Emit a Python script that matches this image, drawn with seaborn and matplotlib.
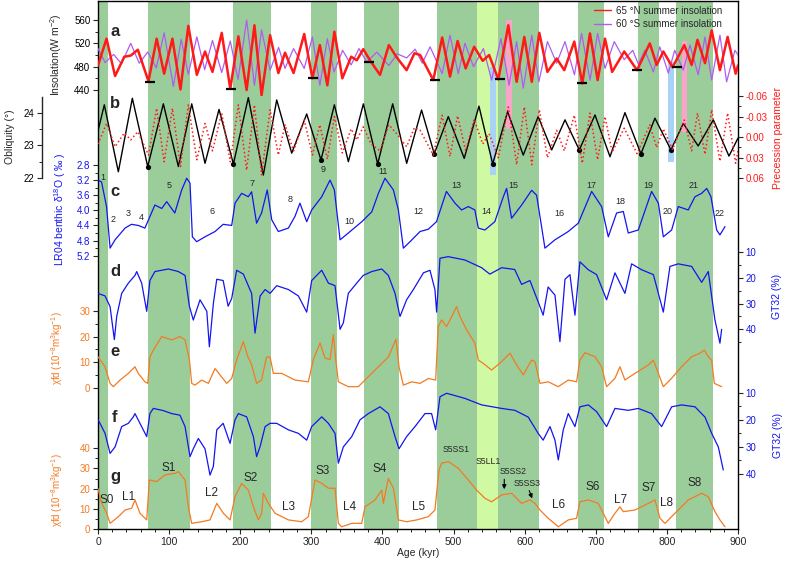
import matplotlib
matplotlib.use("Agg")
import matplotlib.pyplot as plt
import seaborn as sns
from matplotlib.ticker import FixedLocator, FormatStrFormatter
from matplotlib.lines import Line2D

# ---------------- data (age in kyr) ----------------
mis_bands = [(0, 13.6), (70.8, 129.4), (190.4, 242.9), (299.6, 336.6), (373.6, 423.3),
             (477, 532.4), (562, 620), (675.4, 711.5), (759.8, 788.9), (812.8, 864.8)]
mis14_band = (532.4, 562)

# 65N / 60S summer insolation (W m-2), turning points
ins65 = [(0, 482), (12, 528), (24, 464), (37, 497), (46, 499), (56, 509), (71, 455), (82.5, 528),
         (93, 468), (104.6, 528), (116, 441), (127, 550), (139, 466), (150.5, 506), (161, 471),
         (174, 538), (186, 442), (197.4, 532), (209, 440), (220, 551), (230, 431), (242, 534),
         (253.6, 469), (263, 504), (275, 469), (290, 536), (301.5, 460), (312, 517), (322.5, 448),
         (332.4, 540), (343.6, 460), (356, 497), (364, 491), (373, 510), (384, 488), (396.6, 466),
         (409, 517), (420, 496), (434, 474), (445, 503), (453, 500), (471.5, 457), (484, 530),
         (495, 463), (505.7, 524), (517, 477), (529, 514), (541, 490), (550, 500), (563, 458),
         (577, 551), (588.7, 454), (599.5, 531), (610, 454), (620.6, 538), (632, 471), (645, 494),
         (655.7, 474), (669.8, 523), (681, 451), (691.8, 537), (702.6, 457), (713, 528), (723, 471),
         (740, 506), (758, 474), (776, 520), (785.6, 483), (795, 506), (808, 479), (824.5, 517),
         (834.8, 483), (843, 526), (853.6, 486), (863, 542), (874.6, 474), (885.4, 531),
         (896.7, 468), (900, 482)]
ins60s = [(0, 511), (10, 487), (22, 501), (33, 485), (46, 520), (58, 486), (70, 505), (82, 478),
          (93, 538), (106, 446), (117, 527), (127, 467), (139, 531), (150, 475), (161, 525),
          (174, 470), (186, 524), (197, 458), (209, 560), (220, 448), (230, 543), (242, 474),
          (254, 513), (263, 477), (275, 511), (290, 477), (301.5, 531), (312, 448), (322.5, 528),
          (332, 471), (344, 508), (356, 483), (367, 511), (378, 488), (392, 505), (409, 482),
          (421, 502), (434, 495), (446, 510), (456, 486), (467, 514), (484, 468), (495, 534),
          (506.6, 468), (516, 520), (528, 480), (542, 511), (553.5, 457), (566.6, 528), (578, 448),
          (588.7, 523), (598, 443), (610, 534), (620, 454), (632, 523), (645, 486), (656.7, 523),
          (670, 466), (680, 537), (692, 457), (702.6, 537), (713, 477), (726, 523), (740, 492),
          (752, 508), (760, 484), (769, 508), (781, 471), (790, 514), (802, 469), (811, 508),
          (823, 474), (832.5, 517), (844, 466), (853.6, 531), (863, 457), (874.6, 534), (884, 454),
          (895.7, 508), (900, 500)]
ins_min_marks = [(73, 454), (186.6, 442), (301.9, 461), (381.5, 488.5), (474, 456.6),
                 (566, 458.9), (681, 451.4), (758.4, 473.7), (814.7, 480)]

# obliquity (deg) and precession parameter, turning points
obliquity = [(0, 23.44), (8.9, 24.24), (28.6, 22.19), (48.3, 24.44), (69.9, 22.35), (91.9, 24.27),
             (113, 22.35), (131.8, 24.27), (150.5, 22.45), (170.2, 24.1), (190.4, 22.43),
             (211.4, 24.46), (232.5, 22.09), (251.3, 24.39), (272.4, 22.76), (293.5, 23.96),
             (313.6, 22.55), (332.4, 24.24), (352.1, 22.5), (373.2, 24.27), (393.3, 22.43),
             (414.4, 24.27), (434.1, 22.45), (455, 24.08), (472.9, 22.74), (492.6, 23.88),
             (515, 22.6), (535.7, 24.2), (555, 22.43), (576, 24.03), (598, 22.7), (619, 23.88),
             (638, 22.86), (656.7, 23.78), (676.8, 22.86), (698.9, 23.93), (720, 22.65), (741, 24.0),
             (763.5, 22.74), (783.2, 23.83), (805.7, 22.86), (823, 23.67), (844, 22.98),
             (865.3, 23.78), (887.3, 22.67), (900, 23.22)]
obl_min_dots = [(69.9, 22.35), (190.4, 22.43), (313.6, 22.55), (393.3, 22.43), (472.9, 22.74),
                (555, 22.43), (676.8, 22.86), (763.5, 22.74), (805.7, 22.86)]
precession = [(0, 0.01), (12, -0.02), (24, 0.014), (37, -0.006), (46, 0.004), (56, -0.008),
              (71, 0.026), (82.5, -0.042), (93, 0.036), (104.6, -0.042), (116, 0.043), (127, -0.047),
              (139, 0.033), (150.5, -0.02), (161, 0.02), (174, -0.035), (186, 0.036), (197.4, -0.047),
              (209, 0.048), (220, -0.047), (230, 0.055), (242, -0.04), (253.6, 0.026), (263, -0.018),
              (275, 0.02), (290, -0.025), (301.5, 0.026), (312, -0.018), (322.5, 0.032),
              (332.4, -0.03), (343.6, 0.023), (356, -0.012), (364, 0.004), (373, -0.015),
              (384, 0.01), (396.6, 0.02), (409, -0.018), (420, -0.005), (434, 0.014), (445, -0.014),
              (453, -0.01), (471.5, 0.026), (484, -0.032), (495, 0.028), (505.7, -0.031), (517, 0.02),
              (529, -0.026), (541, 0.01), (550, -0.005), (563, 0.03), (577, -0.044), (588.7, 0.04),
              (599.5, -0.044), (610, 0.04), (620.6, -0.04), (632, 0.03), (645, -0.01), (655.7, 0.02),
              (669.8, -0.032), (681, 0.038), (691.8, -0.035), (702.6, 0.033), (713, -0.03),
              (723, 0.022), (740, -0.013), (758, 0.024), (776, -0.018), (785.6, 0.015), (795, -0.012),
              (808, 0.018), (824.5, -0.025), (834.8, 0.02), (843, -0.035), (853.6, 0.025),
              (863, -0.04), (874.6, 0.035), (885.4, -0.035), (896.7, 0.038), (900, 0.02)]

# LR04 benthic d18O (permil)
lr04 = [(0, 3.2), (5, 3.25), (12, 3.9), (17, 5.0), (24, 4.78), (38, 4.47), (47, 4.37), (56.7, 4.4),
        (66, 4.47), (70.8, 4.26), (80, 3.86), (89.6, 3.95), (96.6, 3.77), (108, 4.07), (117.7, 3.46),
        (124.7, 3.15), (129.4, 3.28), (132.7, 4.7), (138.8, 4.83), (150.5, 4.7), (164.6, 4.56),
        (176, 4.37), (188, 4.4), (192.7, 3.81), (202, 3.55), (211.4, 3.64), (216, 3.51),
        (223, 4.34), (230, 4.07), (238, 3.46), (244.3, 4.25), (253.6, 4.56), (267.7, 4.47),
        (277, 4.16), (284, 3.81), (293.5, 4.3), (300.5, 3.99), (314.6, 3.64), (326.3, 3.2),
        (332.4, 3.46), (340.4, 4.78), (352, 4.6), (371, 4.3), (385, 4.04), (394.3, 3.55),
        (403.6, 3.15), (415.4, 3.46), (422.4, 3.99), (429.4, 5.0), (438.8, 4.83), (452.9, 4.56),
        (464.5, 4.5), (476, 4.3), (490, 3.5), (502, 3.81), (511.3, 3.99), (520.7, 3.9), (530, 3.99),
        (534.8, 4.47), (544.1, 4.52), (558, 4.3), (570, 3.64), (574.6, 3.42), (581.6, 4.21),
        (595.7, 3.86), (609.8, 3.47), (616.8, 3.6), (628.5, 5.0), (642.6, 4.78), (661.3, 4.56),
        (675.4, 4.34), (694.2, 3.5), (708.2, 3.9), (717.6, 4.7), (729.3, 4.07), (738.7, 4.03),
        (745.7, 4.6), (759.8, 4.52), (778.5, 3.5), (788, 3.81), (795, 4.7), (806.7, 4.52),
        (816, 3.9), (830, 3.99), (839.5, 3.64), (848.9, 3.55), (856, 3.42), (862, 3.64),
        (870, 4.52), (874.6, 4.65), (881.7, 4.43)]

# GT32 (%) records d and f
gt32_d = [(0, 26), (9.9, 27), (17, 31.2), (23, 44), (26.3, 35), (33.3, 26), (42.7, 22), (52, 19),
          (54.4, 17.5), (61.4, 22), (68.5, 33), (73, 21), (80, 17.5), (99, 16.5), (113, 17.5),
          (122.4, 19), (128.5, 31), (134, 36.4), (143.5, 28.5), (153, 33), (156.6, 46.8),
          (162.2, 30), (167, 20.5), (176, 21), (183, 31), (188, 28), (195, 17), (204.4, 18.5),
          (216, 26), (220.8, 41.5), (228, 27), (235, 24.5), (242, 26), (251.3, 23), (267.7, 24.5),
          (281.8, 27), (293.5, 33.3), (300.5, 21), (314.6, 17), (324, 22), (333.3, 23), (340.4, 40),
          (345, 37.5), (352, 26), (363.8, 22), (373, 19), (385, 17.5), (399, 16.5), (408.3, 19),
          (417.7, 26), (424.7, 35), (434, 28.5), (443.5, 24.5), (457.6, 18), (466.8, 17),
          (473.8, 24.5), (476.2, 33.3), (480.9, 12.3), (492.6, 11.7), (516, 13), (539.5, 16),
          (551, 18.5), (567.6, 16), (586, 16.7), (595.7, 22.5), (607.4, 21), (619, 29.3),
          (626, 34.5), (633, 23.5), (642.6, 26.7), (649.6, 44.8), (656.7, 20.5), (663.7, 18.7),
          (670.7, 34.5), (677.7, 13.7), (689.5, 16.8), (701.2, 18.7), (715.2, 28.5), (727, 18),
          (741, 26), (750.4, 14.5), (764.5, 16.8), (781, 18.7), (795, 33.3), (804.3, 15.5),
          (816, 14.5), (834.8, 15.5), (848.9, 21.7), (858.2, 17.5), (867.6, 36.4), (874.6, 45.4),
          (877, 40)]
gt32_f = [(0, 20), (2.8, 21.3), (9.9, 25), (17, 32.4), (24, 30), (33.3, 22.5), (42.7, 21.3),
          (49.7, 18.9), (52, 17.7), (59, 21.3), (68.5, 26.2), (73, 17.7), (77.8, 15.8), (91.9, 16.6),
          (103.6, 17.7), (115.3, 18.3), (122.4, 22.5), (129.4, 33.6), (134, 30.7), (141.1, 26.9),
          (150.5, 30.7), (157.5, 40.4), (162.2, 37.2), (167, 23.7), (176, 21.3), (185.7, 28.7),
          (192.7, 20), (197.4, 17.7), (209, 18.9), (218.5, 26.2), (223, 33.6), (228, 29.8),
          (235, 22.5), (242, 21.3), (251.3, 21.3), (267.7, 23.7), (281.8, 25), (293.5, 27.5),
          (300.5, 22.5), (314.6, 18.9), (324, 21.3), (333.3, 25), (338, 36), (345, 30),
          (356.8, 26.2), (368.5, 20), (380.2, 17.7), (396.6, 15.2), (408.3, 17.7), (417.7, 26.2),
          (423.3, 30.7), (434, 26.2), (445.8, 22.5), (459.8, 17.7), (469.1, 17.7), (474.8, 23.7),
          (480.9, 11.5), (490.2, 10.2), (516, 12.1), (539.5, 14.5), (567.6, 15.8), (586.3, 16.5),
          (605, 19), (619, 25), (626, 27.5), (635.6, 22.5), (642.6, 27.5), (647.3, 34.8),
          (654.3, 23.7), (661.3, 17.7), (670.7, 22.5), (677.7, 15.2), (689.5, 14.5), (701.2, 17),
          (715.2, 22.5), (727, 15.8), (745.7, 16.5), (759.8, 15.8), (778.5, 17.7), (792.6, 22.5),
          (806.7, 15.2), (820.7, 14.5), (839.5, 15.2), (853.6, 19), (863, 25), (872.3, 30),
          (879.3, 38.5)]

# chi_fd (10-8 m3 kg-1) records e and g
chifd_e = [(0, 12.1), (9.9, 8.2), (17, 1.7), (21.6, 0.4), (31, 3), (42.7, 5.6), (52, 8.2),
           (56.7, 5.6), (66, 2.3), (70, 1.7), (73, 12), (77.8, 14.7), (89.6, 20), (103.6, 18.7),
           (115.3, 20), (122.4, 18.7), (128.5, 11), (131.8, 1.7), (136.4, 1), (145.8, 3),
           (155.2, 1.7), (164.6, 7.5), (171.6, 5), (181, 1.7), (188, 3.6), (195, 11), (204.4, 18),
           (210.5, 12.3), (216, 9), (223, 1.7), (230, 3), (237, 12), (242, 12), (246.6, 5.6),
           (258.3, 5.6), (277, 3), (295.8, 2.3), (302.8, 11), (312.2, 17.5), (319.3, 11.6),
           (326.3, 11), (331, 20.8), (334.3, 11), (338, 2.3), (352, 0.4), (366, 0.4), (375.5, 3),
           (394.3, 8.2), (408.3, 12), (419.1, 19), (423.3, 8.2), (429.4, 1), (441.1, 2.3),
           (452.9, 1.7), (464.5, 3.6), (474.8, 3), (478.5, 23.9), (483.2, 26.5), (490.2, 23.9),
           (497.3, 27.8), (504.3, 31.7), (509, 27.8), (518.4, 22.6), (530, 17.4), (534.8, 10.8),
           (541.8, 9.5), (553.5, 6.9), (567.6, 10.2), (579.3, 13.5), (588.7, 8.9), (598, 5),
           (609.8, 10.8), (614.5, 10.2), (621.5, 1.7), (633.2, 2.3), (647.3, 0.4), (661.3, 3),
           (673, 2.3), (677.7, 10.8), (684.8, 13.7), (698.9, 12.1), (708.2, 8.2), (715.2, 0.4),
           (727, 3.7), (734, 8.2), (741, 3), (755.1, 5.6), (773.9, 8.9), (781, 10.8), (788, 5.6),
           (795, 0.4), (806.7, 3.7), (820.7, 8.2), (834.8, 12.1), (846.5, 13.5), (852.6, 14.7),
           (858.2, 12.1), (863, 10.8), (866.7, 1.7), (877, 0.4)]
chifd_g = [(0, 20), (5.2, 12.7), (12.2, 7.8), (17, 2.8), (28.6, 6.1), (38, 9.4), (47.4, 10.3),
           (52, 14.4), (59, 7.8), (68.5, 4.5), (72.2, 24.3), (82.5, 23.5), (94.2, 26.8),
           (108.3, 27.6), (113, 28.4), (122.4, 24.3), (127, 11), (131.8, 2.8), (145.8, 3.6),
           (157.5, 4.5), (167, 12.7), (176.3, 7.8), (185.7, 4.5), (192.7, 16), (202, 22.6),
           (211.4, 19.3), (218.5, 11), (225.5, 4.5), (230.2, 7.8), (232.5, 17.7), (239.6, 12.7),
           (249, 7.8), (267.7, 4.5), (286.5, 3.6), (295.8, 6.1), (305.2, 24.3), (314.6, 22.6),
           (324, 20.2), (333.3, 20.2), (338, 2.8), (342.7, 1.1), (356.8, 2.8), (370.8, 2.8),
           (375.5, 11), (389.6, 14.4), (399, 19.3), (401.3, 12.7), (408.3, 25.1), (415.4, 20.2),
           (422.4, 4.5), (434.1, 3.6), (448.2, 4.5), (464.5, 6.1), (473.8, 9.4), (479.5, 29.2),
           (483.2, 32.6), (492.6, 33.4), (506.6, 30.1), (520.7, 24.3), (532.4, 19.3), (544.1, 15.2),
           (553.5, 13.5), (567.6, 16.9), (581.6, 17.7), (595.7, 12.7), (607.4, 14.4), (614.5, 12.7),
           (621.5, 9.4), (633.2, 5.3), (647.3, 1.1), (661.3, 4.5), (673, 5.3), (677.7, 13.5),
           (689.5, 14.4), (703.5, 12.7), (712.9, 6.1), (717.6, 2.8), (727, 7.8), (734, 11),
           (738.7, 8.6), (755.1, 9.4), (773.9, 12.7), (783.2, 14.4), (790.3, 5.3), (797.3, 2.8),
           (811.4, 7.8), (830.1, 14.4), (848.9, 17.7), (858.2, 16), (867.6, 8.6), (874.6, 4.5),
           (881.7, 1.1)]

# highlighted intervals in panels a-b: (start kyr, end kyr, top row, bottom row)
blue_bars = [(551, 560, 67, 175), (802, 810, 62, 162)]
pink_bars = [(574, 582, 20, 129), (821, 828, 41, 132)]

# MIS numbers (panel c) and loess/palaeosol units (panel g): (label, age, row)
mis_labels = [("1", 6.6, 177), ("2", 21.5, 219), ("3", 42, 213), ("4", 60.5, 218), ("5", 100, 185),
              ("6", 160.7, 212), ("7", 216, 183), ("8", 270, 199), ("9", 317, 170), ("10", 354, 221),
              ("11", 401, 171), ("12", 450, 211), ("13", 504, 185), ("14", 546.5, 212),
              ("15", 584, 186), ("16", 649, 213), ("17", 694, 186), ("18", 734, 202),
              ("19", 774.6, 186), ("20", 801, 212), ("21", 837, 186), ("22", 874.6, 213)]
unit_labels = [("S0", 12.2, 500), ("L1", 42.6, 497), ("S1", 98.8, 468), ("L2", 160, 493),
               ("S2", 214.7, 478), ("L3", 267.6, 507), ("S3", 316, 471), ("L4", 354.3, 507),
               ("S4", 396.5, 469), ("L5", 450.4, 507), ("L6", 648.2, 505), ("S6", 695, 487),
               ("L7", 735, 500), ("S7", 773.8, 488), ("L8", 799.6, 503), ("S8", 839.4, 483)]
sub_labels = [("S5SS1", 503.4, 450), ("S5LL1", 548.8, 462), ("S5SS2", 584, 472), ("S5SS3", 602.8, 483)]

# ---------------- style ----------------
sns.set_style("ticks")
plt.rcParams['font.family'] = ['Liberation Sans', 'DejaVu Sans']
plt.rcParams['mathtext.fontset'] = 'custom'
plt.rcParams['mathtext.rm'] = 'Liberation Sans'
plt.rcParams['axes.unicode_minus'] = False

GREEN = "#9bcd9b"
LIGHT_GREEN = "#cffaa3"
BLUE = "#1414f0"
ORANGE = "#f47a20"
RED = "#ff1a1a"
PURPLE = "#b05cf0"

W, H = 787, 564
X0, X1 = 98, 738

fig = plt.figure(figsize=(W / 100, H / 100), dpi=100)


def add_axes_px(top, bottom):
    return fig.add_axes([X0 / W, 1 - bottom / H, (X1 - X0) / W, (bottom - top) / H])


def panel(top, bottom, ylim, side, majors, minors, fmt=None, color="black"):
    ax = add_axes_px(top, bottom)
    ax.set_xlim(0, 900)
    ax.set_ylim(*ylim)
    ax.patch.set_visible(False)
    for s in ax.spines.values():
        s.set_visible(False)
    ax.set_xticks([])
    ax.yaxis.set_major_locator(FixedLocator(majors))
    ax.yaxis.set_minor_locator(FixedLocator(minors))
    if fmt:
        ax.yaxis.set_major_formatter(FormatStrFormatter(fmt))
    ax.tick_params(axis='y', which='major', direction='out', length=3.5, width=0.8,
                   labelsize=7, pad=2, labelcolor=color)
    ax.tick_params(axis='y', which='minor', direction='out', length=2, width=0.7)
    if side == 'right':
        ax.yaxis.tick_right()
        ax.tick_params(axis='y', which='both', left=False, right=True,
                       labelleft=False, labelright=True)
    ax.set_ylabel("")
    ax.set_xlabel("")
    return ax


def line(ax, data, **kw):
    age, val = zip(*data)
    sns.lineplot(x=list(age), y=list(val), ax=ax, estimator=None, **kw)
    ax.set_xlabel("")
    ax.set_ylabel("")


def ftext(x, y, s, **kw):
    fig.text(x / W, 1 - y / H, s, ha='center', va='center', **kw)


# ---------------- frame, bands ----------------
ax0 = add_axes_px(1, 529)
ax0.set_xlim(0, 900)
ax0.set_ylim(529, 1)
for a, b in mis_bands:
    ax0.axvspan(a, b, color=GREEN, lw=0)
ax0.axvspan(*mis14_band, color=LIGHT_GREEN, lw=0)
for bars, c in [(blue_bars, "#a8d2f6"), (pink_bars, "#f7a6c9")]:
    for a, b, t, btm in bars:
        ax0.bar((a + b) / 2, btm - t, bottom=t, width=b - a, color=c, lw=0)
ax0.set_yticks([])
ax0.xaxis.set_major_locator(FixedLocator(range(0, 901, 100)))
ax0.xaxis.set_minor_locator(FixedLocator(range(0, 901, 20)))
ax0.tick_params(axis='x', which='major', direction='out', length=3.5, width=0.8, labelsize=7.5, pad=2)
ax0.tick_params(axis='x', which='minor', direction='out', length=2, width=0.7)
for s in ax0.spines.values():
    s.set_linewidth(1.0)
    s.set_color("black")

for lab, x, y in mis_labels:
    ax0.text(x, y, lab, ha='center', va='center', fontsize=6.5)
for lab, x, y in unit_labels:
    ax0.text(x, y, lab, ha='center', va='center', fontsize=8.5)
for lab, x, y in sub_labels:
    ax0.text(x, y, lab, ha='center', va='center', fontsize=6.3)
ax0.annotate("", xy=(571.3, 492), xytext=(571.3, 476.5),
             arrowprops=dict(arrowstyle='-|>', lw=0.8, color='black', mutation_scale=6))
ax0.annotate("", xy=(612, 501), xytext=(605, 488),
             arrowprops=dict(arrowstyle='-|>', lw=0.8, color='black', mutation_scale=6))

# ---------------- panel a: insolation ----------------
ax_a = panel(0, 96, (429.7, 594.3), 'left', [440, 480, 520, 560], [460, 500, 540])
line(ax_a, ins60s, color=PURPLE, linewidth=0.9)
line(ax_a, ins65, color=RED, linewidth=1.8)
mx, my = zip(*ins_min_marks)
ax_a.plot(mx, my, ls='none', marker='_', ms=7, mew=1.6, color='black')
ax_a.legend([Line2D([], [], color=RED, lw=1), Line2D([], [], color=PURPLE, lw=1)],
            ["65 °N summer insolation", "60 °S summer insolation"],
            loc='upper right', bbox_to_anchor=(726 / W, 1 - 2 / H), bbox_transform=fig.transFigure,
            frameon=False, fontsize=7, handlelength=1.8, handletextpad=0.5,
            labelspacing=0.35, borderaxespad=0)

# ---------------- panel b: obliquity + precession ----------------
ax_b = panel(96, 178.3, (21.99, 24.51), 'left', [22, 23, 24], [22.5, 23.5])
ax_b.spines['left'].set_visible(True)
ax_b.spines['left'].set_position(('outward', 40))
ax_b.spines['left'].set_bounds(21.99, 24.49)
ax_b.spines['left'].set_linewidth(1.0)
ax_p = panel(96, 178.3, (0.06, -0.06), 'right', [-0.06, -0.03, 0, 0.03, 0.06],
             [-0.045, -0.015, 0.015, 0.045], fmt='%.2f', color=RED)
line(ax_p, precession, color=RED, linewidth=1.1, linestyle=':')
line(ax_b, obliquity, color='black', linewidth=1.0)
dx, dy = zip(*obl_min_dots)
sns.scatterplot(x=list(dx), y=list(dy), ax=ax_b, color='black', s=14, zorder=5, linewidth=0)
ax_b.set_xlabel("")
ax_b.set_ylabel("")

# ---------------- panel c: LR04 ----------------
ax_c = panel(160, 262, (5.367, 2.668), 'left', [2.8, 3.2, 3.6, 4.0, 4.4, 4.8, 5.2],
             [3.0, 3.4, 3.8, 4.2, 4.6, 5.0], fmt='%.1f', color=BLUE)
line(ax_c, lr04, color=BLUE, linewidth=0.9)

# ---------------- panel d: GT32 ----------------
ax_d = panel(235, 350, (48.06, 3.26), 'right', [10, 20, 30, 40], [15, 25, 35, 45], color=BLUE)
line(ax_d, gt32_d, color=BLUE, linewidth=0.9)

# ---------------- panel e: chi_fd ----------------
ax_e = panel(300, 395, (-2.85, 34.3), 'left', [0, 10, 20, 30], [5, 15, 25], color=ORANGE)
line(ax_e, chifd_e, color=ORANGE, linewidth=0.9)

# ---------------- panel f: GT32 ----------------
ax_f = panel(380, 490, (45.9, 5.31), 'right', [10, 20, 30, 40], [15, 25, 35], color=BLUE)
line(ax_f, gt32_f, color=BLUE, linewidth=0.9)

# ---------------- panel g: chi_fd ----------------
ax_g = panel(440, 529, (0, 44.1), 'left', [0, 10, 20, 30, 40], [5, 15, 25, 35], color=ORANGE)
line(ax_g, chifd_g, color=ORANGE, linewidth=0.9)

# ---------------- labels ----------------
for lab, y in [("a", 32), ("b", 104), ("c", 191), ("d", 271), ("e", 352), ("f", 417), ("g", 476)]:
    ftext(115, y, lab, fontsize=12, fontweight='bold')

ftext(56, 55, "Insolation(W m$^{-2}$)", rotation=90, fontsize=7.5)
ftext(10, 137, "Obliquity (°)", rotation=90, fontsize=7.5)
ftext(60, 209, "LR04 benthic δ$^{18}$O ( ‰ )", rotation=90, fontsize=7.5, color=BLUE)
ftext(57, 348, "χfd (10$^{-8}$m$^{3}$kg$^{-1}$)", rotation=90, fontsize=7, color=ORANGE)
ftext(57, 490, "χfd (10$^{-8}$m$^{3}$kg$^{-1}$)", rotation=90, fontsize=7, color=ORANGE)
ftext(778, 138, "Precession parameter", rotation=90, fontsize=7.5, color=RED)
ftext(777, 296, "GT32 (%)", rotation=90, fontsize=7.5, color=BLUE)
ftext(778, 435, "GT32 (%)", rotation=90, fontsize=7.5, color=BLUE)
ftext(418, 553, "Age (kyr)", fontsize=7.5)

fig.savefig("out.png", dpi=100)
